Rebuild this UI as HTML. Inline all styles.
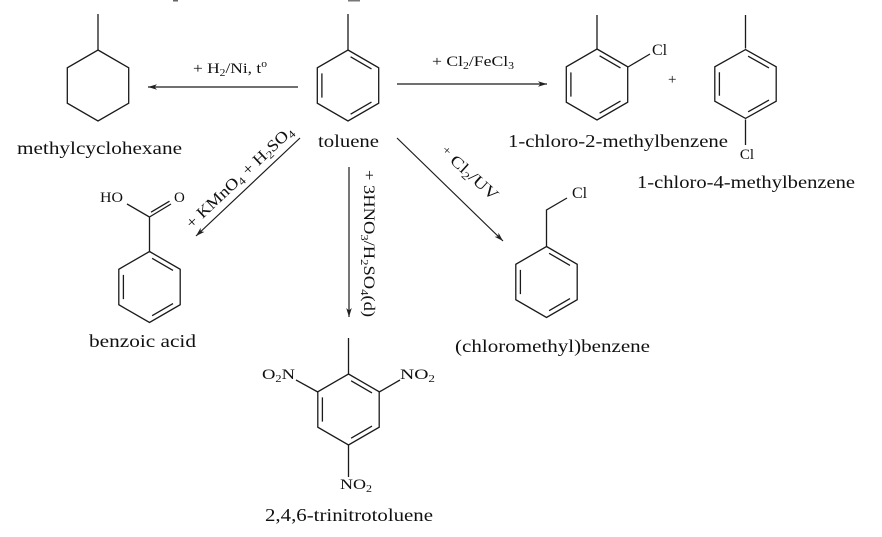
<!DOCTYPE html>
<html><head><meta charset="utf-8"><style>
html,body{margin:0;padding:0;background:#fff;}
svg{display:block;}
text{font-family:"Liberation Serif","Times New Roman","DejaVu Serif",serif;fill:#111;}
</style></head><body>
<svg width="882" height="537" viewBox="0 0 882 537" xmlns="http://www.w3.org/2000/svg">
<defs>
<marker id="ah" markerUnits="userSpaceOnUse" markerWidth="12" markerHeight="8" refX="10" refY="4" orient="auto" viewBox="0 0 12 8">
<path d="M10,4 L1,1.2 L3.5,4 L1,6.8 Z" fill="#222"/>
</marker>
<g id="hex" fill="none" stroke="#1a1a1a" stroke-width="1.3" stroke-linejoin="miter">
<path d="M0,-35.5 L30.7,-17.75 L30.7,17.75 L0,35.5 L-30.7,17.75 L-30.7,-17.75 Z"/>
</g>
<g id="benz" fill="none" stroke="#1a1a1a" stroke-width="1.3">
<path d="M0,-35.5 L30.7,-17.75 L30.7,17.75 L0,35.5 L-30.7,17.75 L-30.7,-17.75 Z"/>
<path d="M2.6,-28.7 L23.5,-16.6 M-26.1,-12.1 L-26.1,12.1 M23.5,16.6 L2.6,28.7"/>
</g>
</defs>

<!-- top fragments -->
<rect x="173" y="0" width="5" height="1.5" fill="#666"/>
<rect x="348" y="0" width="12" height="1.5" fill="#777"/>

<g stroke="#1a1a1a" stroke-width="1.3" fill="none">
<path d="M98,14 L98,50"/>
<path d="M348,14 L348,50"/>
<path d="M597,15 L597,49"/>
<path d="M745.5,15 L745.5,48.5"/>
<path d="M628,67 L650,54"/>
<path d="M745.5,119.5 L745.5,145"/>
<path d="M149.5,251.5 L149.5,217 L127,204 M149.5,217 L171,204 M151,212.2 L169.5,201.2"/>
<path d="M546.5,246.5 L546.5,210 L567,198"/>
<path d="M348.5,338 L348.5,374"/>
<path d="M317.8,392 L296,380"/>
<path d="M379.2,392 L400,380"/>
<path d="M348.5,445 L348.5,477"/>
</g>

<use href="#hex" transform="translate(98,85.5)"/>
<use href="#benz" transform="translate(348,85.5)"/>
<use href="#benz" transform="translate(597,84.5)"/>
<use href="#benz" transform="translate(745.5,84) scale(1,0.97)"/>
<use href="#benz" transform="translate(149.5,287)"/>
<use href="#benz" transform="translate(546.5,282)"/>
<use href="#benz" transform="translate(348.5,409.5)"/>

<g stroke="#1a1a1a" stroke-width="1.2" fill="none">
<line x1="298" y1="87" x2="148" y2="87" marker-end="url(#ah)"/>
<line x1="397" y1="84" x2="547" y2="84" marker-end="url(#ah)"/>
<line x1="300" y1="138" x2="196" y2="236" marker-end="url(#ah)"/>
<line x1="349" y1="167" x2="349" y2="317" marker-end="url(#ah)"/>
<line x1="397" y1="138" x2="503" y2="241" marker-end="url(#ah)"/>
</g>

<text x="193" y="73" font-size="15" textLength="74" lengthAdjust="spacingAndGlyphs">+ H<tspan dy="3" font-size="10">2</tspan><tspan dy="-3">/Ni, t</tspan><tspan dy="-6" font-size="10">o</tspan></text>
<text x="432" y="66" font-size="15" textLength="82" lengthAdjust="spacingAndGlyphs">+ Cl<tspan dy="3" font-size="10">2</tspan><tspan dy="-3">/FeCl</tspan><tspan dy="3" font-size="10">3</tspan></text>
<text transform="translate(243,181) rotate(-43.3)" text-anchor="middle" font-size="16" textLength="141" lengthAdjust="spacingAndGlyphs">+ KMnO<tspan dy="3" font-size="11">4</tspan><tspan dy="-3"> + H</tspan><tspan dy="3" font-size="11">2</tspan><tspan dy="-3">SO</tspan><tspan dy="3" font-size="11">4</tspan></text>
<text transform="translate(364,243.5) rotate(90)" text-anchor="middle" font-size="16" textLength="147" lengthAdjust="spacingAndGlyphs">+ 3HNO<tspan dy="3" font-size="11">3</tspan><tspan dy="-3">/H</tspan><tspan dy="3" font-size="11">2</tspan><tspan dy="-3">SO</tspan><tspan dy="3" font-size="11">4</tspan><tspan dy="-3">(d)</tspan></text>
<text transform="translate(466,177) rotate(42)" text-anchor="middle" font-size="16" textLength="72" lengthAdjust="spacingAndGlyphs"><tspan font-size="12" dy="-3">+</tspan><tspan dy="3"> Cl</tspan><tspan dy="3" font-size="11">2</tspan><tspan dy="-3">/UV</tspan></text>

<text x="652" y="55" font-size="16">Cl</text>
<text x="668" y="84" font-size="15">+</text>
<text x="747" y="159" font-size="15" text-anchor="middle">Cl</text>
<text x="100" y="202" font-size="15" textLength="23" lengthAdjust="spacingAndGlyphs">HO</text>
<text x="174" y="202" font-size="15">O</text>
<text x="572" y="198" font-size="16">Cl</text>
<text x="262" y="379" font-size="15" textLength="33" lengthAdjust="spacingAndGlyphs">O<tspan dy="3" font-size="10">2</tspan><tspan dy="-3">N</tspan></text>
<text x="400" y="379" font-size="15" textLength="35" lengthAdjust="spacingAndGlyphs">NO<tspan dy="3" font-size="10">2</tspan></text>
<text x="340" y="489" font-size="15" textLength="32" lengthAdjust="spacingAndGlyphs">NO<tspan dy="3" font-size="10">2</tspan></text>

<text x="17" y="154" font-size="18" textLength="165" lengthAdjust="spacingAndGlyphs">methylcyclohexane</text>
<text x="318" y="147" font-size="18" textLength="61" lengthAdjust="spacingAndGlyphs">toluene</text>
<text x="508" y="147" font-size="18" textLength="220" lengthAdjust="spacingAndGlyphs">1-chloro-2-methylbenzene</text>
<text x="637" y="188" font-size="18" textLength="218" lengthAdjust="spacingAndGlyphs">1-chloro-4-methylbenzene</text>
<text x="89" y="347" font-size="18" textLength="107" lengthAdjust="spacingAndGlyphs">benzoic acid</text>
<text x="455" y="352" font-size="18" textLength="195" lengthAdjust="spacingAndGlyphs">(chloromethyl)benzene</text>
<text x="265" y="521" font-size="18" textLength="168" lengthAdjust="spacingAndGlyphs">2,4,6-trinitrotoluene</text>
</svg>
</body></html>
